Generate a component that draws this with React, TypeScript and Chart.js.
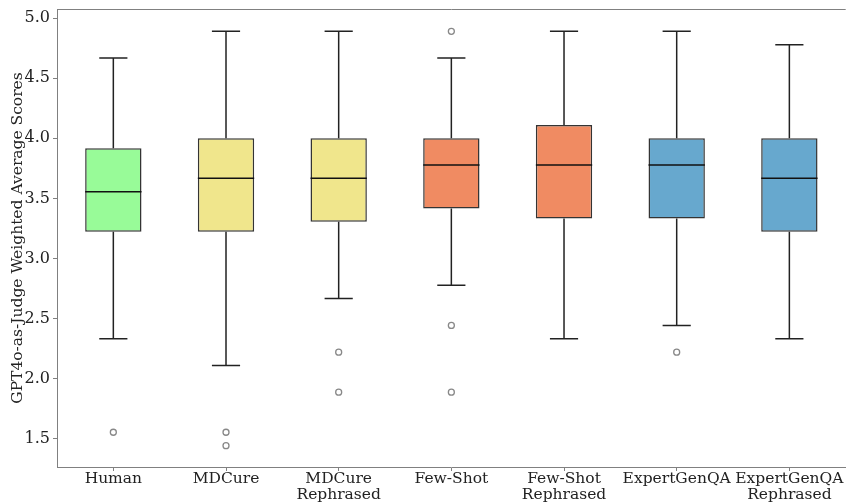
import React, { useEffect, useRef } from "react";
import { Chart, registerables } from "chart.js";

Chart.register(...registerables);

const categories = [
  "Human",
  "MDCure",
  "MDCure\nRephrased",
  "Few-Shot",
  "Few-Shot\nRephrased",
  "ExpertGenQA",
  "ExpertGenQA\nRephrased",
];
const whiskerLow = [2.333, 2.111, 2.667, 2.778, 2.333, 2.444, 2.333];
const q1 = [3.222, 3.222, 3.306, 3.417, 3.333, 3.333, 3.222];
const medians = [3.556, 3.667, 3.667, 3.778, 3.778, 3.778, 3.667];
const q3 = [3.917, 4.0, 4.0, 4.0, 4.111, 4.0, 4.0];
const whiskerHigh = [4.667, 4.889, 4.889, 4.667, 4.889, 4.889, 4.778];
const outliers: number[][] = [
  [1.556],
  [1.556, 1.444],
  [2.222, 1.889],
  [4.889, 2.444, 1.889],
  [],
  [2.222],
  [],
];
const boxColors = ["#98FB98", "#F0E68C", "#F0E68C", "#F08B62", "#F08B62", "#67A8CE", "#67A8CE"];
const yTicks = [1.5, 2.0, 2.5, 3.0, 3.5, 4.0, 4.5, 5.0];
const yTitle = "GPT4o-as-Judge Weighted Average Scores";

const FONT = "'DejaVu Serif', serif";

const boxParts = {
  id: "boxParts",
  beforeDatasetsDraw(chart: any) {
    const ctx = chart.ctx;
    const xs = chart.scales.x;
    const ys = chart.scales.y;
    const meta = chart.getDatasetMeta(0);
    ctx.save();
    ctx.strokeStyle = "#222222";
    ctx.lineWidth = 1.5;
    categories.forEach((_, i) => {
      const cx = xs.getPixelForValue(i);
      const bw = meta.data[i] ? meta.data[i].width : 56;
      const cap = bw / 4;
      const yLo = ys.getPixelForValue(whiskerLow[i]);
      const yHi = ys.getPixelForValue(whiskerHigh[i]);
      const yQ1 = ys.getPixelForValue(q1[i]);
      const yQ3 = ys.getPixelForValue(q3[i]);
      ctx.beginPath();
      ctx.moveTo(cx, yQ1);
      ctx.lineTo(cx, yLo);
      ctx.moveTo(cx, yQ3);
      ctx.lineTo(cx, yHi);
      ctx.moveTo(cx - cap, yLo);
      ctx.lineTo(cx + cap, yLo);
      ctx.moveTo(cx - cap, yHi);
      ctx.lineTo(cx + cap, yHi);
      ctx.stroke();
    });
    ctx.restore();
  },
  afterDatasetsDraw(chart: any) {
    const ctx = chart.ctx;
    const xs = chart.scales.x;
    const ys = chart.scales.y;
    const meta = chart.getDatasetMeta(0);
    ctx.save();
    ctx.strokeStyle = "#111111";
    ctx.lineWidth = 1.5;
    categories.forEach((_, i) => {
      const cx = xs.getPixelForValue(i);
      const bw = meta.data[i] ? meta.data[i].width : 56;
      const ym = ys.getPixelForValue(medians[i]);
      ctx.beginPath();
      ctx.moveTo(cx - bw / 2, ym);
      ctx.lineTo(cx + bw / 2, ym);
      ctx.stroke();
    });
    // top spine
    const a = chart.chartArea;
    ctx.strokeStyle = "#808080";
    ctx.lineWidth = 1;
    ctx.beginPath();
    ctx.moveTo(a.left, a.top + 0.5);
    ctx.lineTo(a.right, a.top + 0.5);
    ctx.stroke();
    ctx.restore();
  },
};

export default function App() {
  const ref = useRef<HTMLCanvasElement | null>(null);

  useEffect(() => {
    if (!ref.current) return;
    const maxOut = Math.max(...outliers.map((a) => a.length));
    const outlierLayers = Array.from({ length: maxOut }, (_, k) =>
      outliers.map((a) => (a[k] === undefined ? null : a[k]))
    );

    const chart = new Chart(ref.current, {
      type: "bar",
      data: {
        labels: categories.map((c) => c.split("\n")),
        datasets: [
          {
            type: "bar",
            data: q1.map((v, i) => [v, q3[i]]) as any,
            backgroundColor: boxColors,
            borderColor: "rgba(30,30,30,0.9)",
            borderWidth: 1.5,
            borderSkipped: false,
            barPercentage: 0.5,
            categoryPercentage: 1,
          } as any,
          ...outlierLayers.map(
            (layer) =>
              ({
                type: "line",
                data: layer as any,
                showLine: false,
                spanGaps: false,
                pointStyle: "circle",
                pointRadius: 3,
                pointBorderWidth: 1.3,
                pointBorderColor: "#888888",
                pointBackgroundColor: "rgba(0,0,0,0)",
              } as any)
          ),
        ],
      },
      options: {
        responsive: false,
        animation: false,
        events: [],
        layout: { padding: { top: 9, left: 0, right: 0, bottom: 0 } },
        plugins: {
          legend: { display: false },
          tooltip: { enabled: false },
        },
        scales: {
          x: {
            type: "category",
            offset: true,
            afterFit: (s: any) => {
              s.height = 36;
              s.paddingLeft = 0;
              s.paddingRight = 0;
            },
            grid: {
              display: true,
              offset: false,
              drawOnChartArea: false,
              drawTicks: true,
              tickLength: 4,
              color: "#808080",
            },
            border: { display: true, color: "#808080", width: 1 },
            ticks: {
              color: "#222222",
              padding: 0,
              maxRotation: 0,
              autoSkip: false,
              font: { family: FONT, size: 15.5, lineHeight: 1.05 },
            },
          },
          y: {
            type: "linear",
            min: 1.267,
            max: 5.075,
            afterFit: (s: any) => {
              s.width = 57;
              s.paddingTop = 0;
              s.paddingBottom = 0;
            },
            afterBuildTicks: (s: any) => {
              s.ticks = yTicks.map((v) => ({ value: v }));
            },
            grid: {
              display: true,
              drawOnChartArea: false,
              drawTicks: true,
              tickLength: 4,
              color: "#808080",
            },
            border: { display: true, color: "#808080", width: 1 },
            ticks: {
              color: "#222222",
              padding: 3,
              font: { family: FONT, size: 16 },
              callback: (v: any) => Number(v).toFixed(1),
            },
            title: {
              display: true,
              text: yTitle,
              color: "#222222",
              font: { family: FONT, size: 15.5 },
              padding: { top: 9, bottom: 0 },
            },
          },
        },
      },
      plugins: [boxParts],
    });
    return () => chart.destroy();
  }, []);

  return (
    <div
      style={{
        position: "fixed",
        left: 0,
        top: 0,
        width: 848,
        height: 503,
        overflow: "hidden",
        background: "#ffffff",
      }}
    >
      <canvas ref={ref} width={851} height={503} style={{ display: "block" }} />
    </div>
  );
}
